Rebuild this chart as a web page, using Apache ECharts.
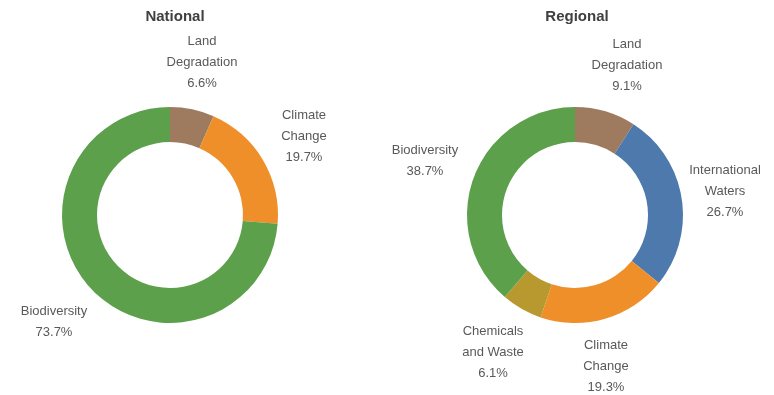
<!DOCTYPE html>
<html><head><meta charset="utf-8">
<script src="https://cdn.jsdelivr.net/npm/echarts@6/dist/echarts.min.js"></script>
<style>html,body{margin:0;padding:0;background:#fff}#c{width:774px;height:395px}</style>
</head><body><div id="c"></div>
<script>
const nationalCategories = ["Land\nDegradation", "Climate\nChange", "Biodiversity"];
const nationalValues = [6.6, 19.7, 73.7];
const regionalCategories = ["Land\nDegradation", "International\nWaters", "Climate\nChange", "Chemicals\nand Waste", "Biodiversity"];
const regionalValues = [9.1, 26.7, 19.3, 6.1, 38.7];

const COLORS = {
  "Land\nDegradation": "#9E7A5F",
  "Climate\nChange": "#EF8F2A",
  "Biodiversity": "#5CA04B",
  "International\nWaters": "#4E79AC",
  "Chemicals\nand Waste": "#B7992F"
};
const nationalLabelPos = [[202, 62], [304, 136], [54, 322]];
const regionalLabelPos = [[627, 65], [725, 191], [606, 366], [493, 352], [425, 161]];

function mk(cats, vals) {
  return cats.map((c, i) => ({ name: c, value: vals[i], itemStyle: { color: COLORS[c] } }));
}
const labelStyle = {
  show: true, position: 'outside', color: '#595959', fontSize: 13, lineHeight: 21,
  fontFamily: 'Liberation Sans, Arial, sans-serif', align: 'center', overflow: 'none',
  formatter: p => p.name + '\n' + p.value.toFixed(1) + '%'
};
const chart = echarts.init(document.getElementById('c'), null, { renderer: 'canvas' });
chart.setOption({
  animation: false,
  title: [
    { text: 'National', left: 170, top: 4, textAlign: 'center',
      textStyle: { fontSize: 15, fontWeight: 'bold', color: '#404040', fontFamily: 'Liberation Sans, Arial, sans-serif' } },
    { text: 'Regional', left: 572, top: 4, textAlign: 'center',
      textStyle: { fontSize: 15, fontWeight: 'bold', color: '#404040', fontFamily: 'Liberation Sans, Arial, sans-serif' } }
  ],
  series: [
    { type: 'pie', center: [170, 215], radius: [73, 108], startAngle: 90, clockwise: true,
      data: mk(nationalCategories, nationalValues), label: labelStyle, labelLine: { show: false },
      emphasis: { disabled: true },
      labelLayout: p => ({ x: nationalLabelPos[p.dataIndex][0], y: nationalLabelPos[p.dataIndex][1], align: 'center', verticalAlign: 'middle' }) },
    { type: 'pie', center: [575, 215], radius: [73, 108], startAngle: 90, clockwise: true,
      data: mk(regionalCategories, regionalValues), label: labelStyle, labelLine: { show: false },
      emphasis: { disabled: true },
      labelLayout: p => ({ x: regionalLabelPos[p.dataIndex][0], y: regionalLabelPos[p.dataIndex][1], align: 'center', verticalAlign: 'middle' }) }
  ]
});
</script></body></html>
